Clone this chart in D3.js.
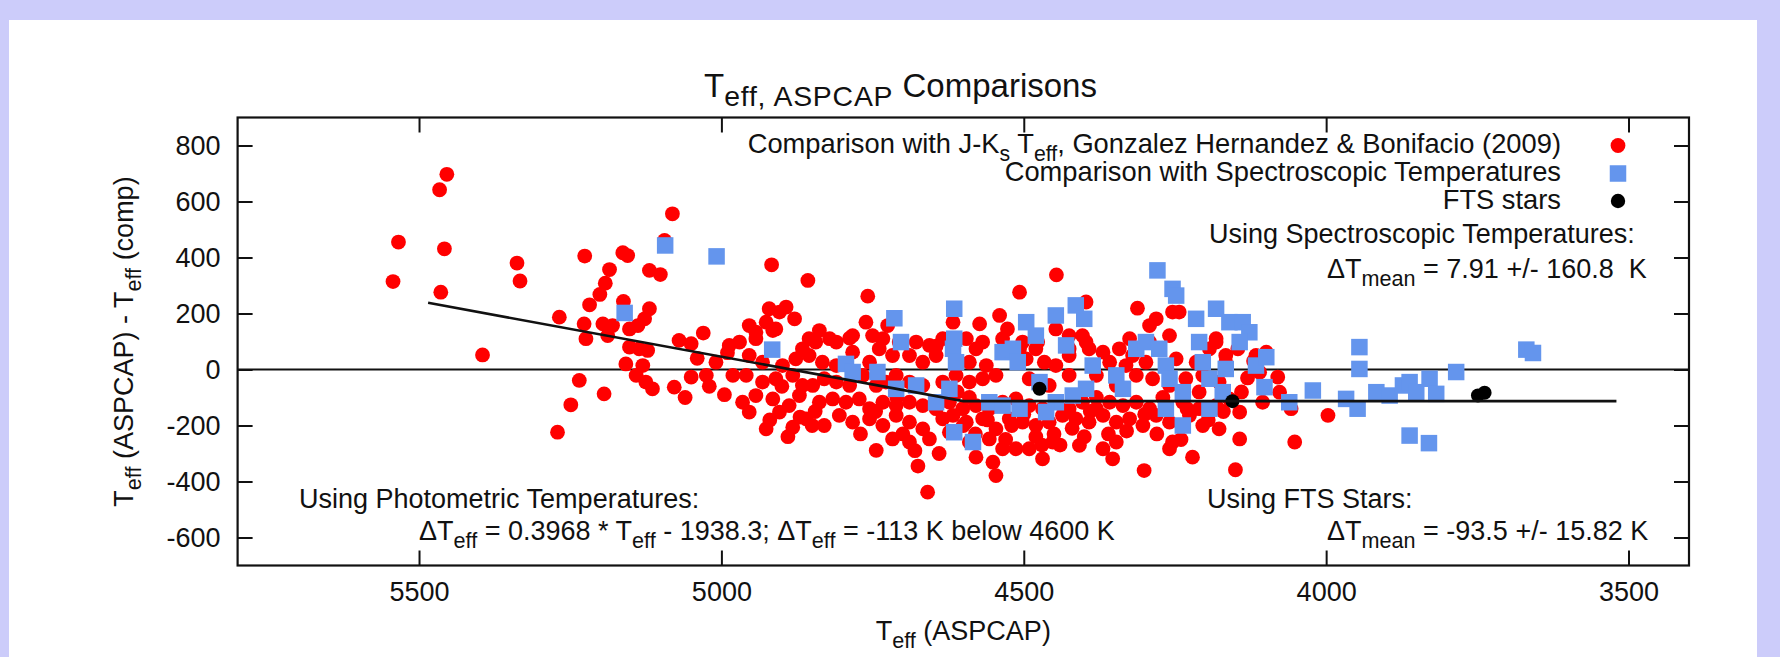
<!DOCTYPE html>
<html>
<head>
<meta charset="utf-8">
<script src="https://cdn.jsdelivr.net/npm/d3@7"></script>
<style>
  html, body { margin: 0; padding: 0; background: #ffffff; }
  svg text { font-family: "Liberation Sans", Arial, Helvetica, sans-serif; fill: #111; white-space: pre; }
</style>
</head>
<body>
<svg id="chart" width="1780" height="657"></svg>
<script>
// Teff(ASPCAP) - Teff(comp) against Teff(ASPCAP), in K.
// J-Ks photometric comparison (Gonzalez Hernandez & Bonifacio 2009)
const photometric = [
  [5543,314],[5534,455],[5466,642],[5454,697],[5458,431],[5464,276],[5338,380],[5333,316],[5395,52],[5268,187],
  [5226,405],[5185,357],[5192,308],[5201,268],[5218,231],[5163,417],[5155,407],[5162,243],[5119,354],[5101,339],
  [5081,556],[5094,461],[5119,217],[5127,181],[5138,157],[5227,163],[5224,110],[5188,121],[5196,163],[5180,157],
  [5152,145],[5152,80],[5136,74],[5122,68],[5158,20],[5130,14],[5141,-21],[5125,-45],[5114,-69],[5078,-63],
  [5070,104],[5050,92],[5050,-27],[5025,-21],[5009,26],[4987,86],[4981,-21],[5235,-39],[5249,-126],[5194,-87],
  [5271,-224],
  [4917,374],[4857,318],[4758,262],[4446,338],[4507,276],[4312,219],[4397,241],[4921,217],[4893,223],[4879,181],
  [4904,205],[4954,157],[4970,98],[4943,133],[4915,139],[4855,110],[4838,139],[4821,110],[4788,112],[4761,169],
  [4725,157],[4656,86],[4645,83],[4617,169],[4573,163],[4540,193],[4527,145],[4502,98],[4477,98],[4466,26],
  [4447,145],[4425,121],[4403,121],[4369,62],[4325,110],[4320,50],[4281,181],[4243,205],[4254,205],[4292,157],
  [4182,98],[4166,26],
  [4959,-21],[4932,-45],[4910,-33],[4882,-21],[4866,-57],[4849,-57],[4830,-33],[4810,-45],[4788,-57],[4766,-21],
  [4744,-57],[4728,-45],[4711,-21],[4689,-45],[4667,-57],[4634,-45],[4612,-21],[4590,-45],[4568,-33],[4546,-21],
  [4491,-33],[4458,-57],[4425,-21],[4380,-21],[4347,-57],[4314,-21],[4287,-33],[4259,-57],[4232,-33],[4204,-21],
  [4177,-45],
  [4965,-117],[4943,-93],[4915,-105],[4888,-129],[4871,-93],[4838,-117],[4816,-105],[4794,-117],[4772,-105],[4755,-140],
  [4733,-117],[4711,-129],[4689,-117],[4667,-129],[4645,-140],[4623,-117],[4601,-140],[4579,-129],[4557,-140],[4535,-117],
  [4513,-105],[4491,-129],[4469,-140],[4447,-117],[4425,-140],[4403,-117],[4380,-140],[4358,-117],[4336,-129],[4314,-117],
  [4292,-140],[4265,-129],[4237,-117],[4210,-140],[4182,-129],[4160,-105],
  [4954,-152],[4926,-212],[4904,-152],[4882,-206],[4860,-176],[4830,-200],[4805,-164],[4783,-188],[4755,-176],[4733,-200],
  [4711,-164],[4689,-188],[4667,-212],[4634,-176],[4617,-164],[4595,-188],[4568,-176],[4546,-212],[4524,-176],[4502,-188],
  [4480,-200],[4458,-188],[4436,-164],[4414,-176],[4392,-188],[4369,-164],[4347,-188],[4325,-176],[4303,-200],[4281,-164],
  [4259,-188],[4226,-164],[4204,-200],[4177,-212],
  [4744,-289],[4717,-248],[4689,-259],[4656,-248],[4623,-224],[4590,-259],[4557,-248],[4535,-283],[4513,-283],[4491,-283],
  [4452,-259],[4408,-271],[4369,-283],[4347,-259],[4259,-283],[4254,-259],
  [4675,-345],[4579,-313],[4551,-331],[4546,-379],[4469,-319],[4353,-319],[4221,-313],[4301,-361],[4659,-438],[4150,-358],
  [4954,50],[4932,26],[4899,14],[4877,38],[4855,50],[4833,26],[4810,14],[4783,62],[4755,26],[4739,74],
  [4717,50],[4689,50],[4667,26],[4645,50],[4590,26],[4579,74],[4562,14],[4496,38],[4447,14],[4425,50],
  [4392,74],[4358,26],[4331,14],[4298,26],[4248,38],[4215,26],[4193,74],[4166,50],
  [4943,110],[4926,169],[4910,145],[4866,74],[4844,98],[4810,98],[4783,121],[4750,121],[4733,110],[4706,98],
  [4678,98],[4634,110],[4595,110],[4568,98],[4535,110],[4507,74],[4480,74],[4425,74],[4397,98],[4342,74],
  [4314,74],[4292,98],[4259,121],[4182,110],
  [4146,74],[4099,62],[4116,50],[4080,-27],[4077,-81],[4105,-117],[4143,-152],[4143,-248],[4058,-140],[4052,-259],
  [3997,-164],
  [5040,40],[5020,-60],[4995,-90],[5060,-100],[4990,60],[5030,130],
  [4900,-60],[4870,-170],[4845,-150],[4920,-180],[4890,-240],[4850,-200],
  [4770,-230],[4745,-150],[4700,-230],[4680,-290],[4640,-300],[4710,-100],
  [4600,-200],[4580,-230],[4560,-180],[4530,-250],[4520,-200],[4500,-160],[4480,-240],[4470,-270],[4610,-80],[4590,-100],
  [4450,-230],[4440,-270],[4420,-210],[4400,-240],[4390,-150],[4380,-100],[4360,-230],
  [4330,-220],[4300,-160],[4280,-230],[4270,-100],[4240,-250],[4230,-140],[4210,-80],
  [4195,-180],[4170,-150],[4140,-80],[4130,-30],[4120,30],[4110,-10]
];

// Spectroscopic temperature comparison
const spectroscopic = [
  [5093,443],[5008,404],[5160,202],
  [4916,71],[4714,183],[4703,98],[4794,20],[4783,-9],[4742,-9],[4711,-69],[4678,-57],[4645,-117],[4615,217],[4615,110],
  [4617,74],[4612,26],[4623,-69],[4615,-224],[4584,-259],[4557,-117],[4535,62],[4518,74],[4510,26],[4496,169],
  [4480,121],[4474,-45],[4447,193],[4430,86],[4414,229],[4400,181],[4386,14],[4397,-69],[4419,-93],[4447,-117],
  [4463,-152],[4507,-140],[4535,-129],[4347,-21],[4336,-69],[4314,74],[4298,98],[4279,354],[4254,288],[4248,264],
  [4276,74],[4265,14],[4259,-33],[4265,-140],[4237,-81],[4237,-200],[4215,181],[4210,98],[4204,26],[4193,-33],
  [4182,217],[4193,-140],[4171,-81],[4160,169],[4166,2],
  [4138,169],[4127,133],[4143,98],[4116,14],[4099,44],[4102,-63],[4061,-117],[4022,-75],[3945,80],[3945,2],
  [3967,-105],[3948,-140],[3917,-81],[3895,-93],[3873,-57],[3862,-45],[3851,-81],[3829,-33],[3818,-87],[3785,-9],
  [3862,-236],[3830,-263],[3669,71],[3658,59]
];

// FTS stars
const ftsStars = [[4474,-69],[4155,-113],[3749,-93],[3738,-83]];

// Photometric offset relation: dT = slope*Teff + intercept above the break, constant below it
const fitSlope = 0.3968;
const fitIntercept = -1938.3;
const fitFloor = -113;
const fitBreak = 4600;
const fitSpan = [5485, 3520];

const xTicks = [5500, 5000, 4500, 4000, 3500];
const yTicks = [800, 600, 400, 200, 0, -200, -400, -600];

const legendLabels = [
  [{t:"Comparison with J-K"},{t:"s",sub:true},{t:" T"},{t:"eff",sub:true},{t:", Gonzalez Hernandez & Bonifacio (2009)"}],
  [{t:"Comparison with Spectroscopic Temperatures"}],
  [{t:"FTS stars"}]
];

const svg = d3.select("#chart");
const W = 1780, H = 657;
const FS = 27;

// page background with lavender margins
svg.append("rect").attr("width", W).attr("height", H).attr("fill", "#ffffff");
svg.append("rect").attr("x", 0).attr("y", 0).attr("width", W).attr("height", 20).attr("fill", "#ccccfa");
svg.append("rect").attr("x", 0).attr("y", 0).attr("width", 9).attr("height", H).attr("fill", "#ccccfa");
svg.append("rect").attr("x", 1757).attr("y", 0).attr("width", W - 1757).attr("height", H).attr("fill", "#ccccfa");

const plot = { left: 237.6, right: 1689, top: 117.5, bottom: 565.5 };
const x = d3.scaleLinear().domain([5800, 3400]).range([plot.left, plot.right]);
const y = d3.scaleLinear().domain([-700, 900]).range([plot.bottom, plot.top]);

// text with gnuplot-style subscripts
function richText(parent, px, py, parts, size, anchor, opts) {
  opts = opts || {};
  const subScale = opts.subScale || 0.8;
  const t = parent.append("text")
    .attr("x", px).attr("y", py)
    .attr("font-size", size)
    .attr("text-anchor", anchor || "start");
  if (opts.transform) t.attr("transform", opts.transform);
  const shift = size * 0.28;
  let lowered = false;
  parts.forEach(p => {
    const s = t.append("tspan").text(p.t);
    if (p.sub) {
      s.attr("font-size", size * subScale);
      if (opts.subSpacing) s.attr("letter-spacing", opts.subSpacing);
      if (!lowered) { s.attr("dy", shift); lowered = true; }
    } else if (lowered) {
      s.attr("dy", -shift); lowered = false;
    }
  });
  return t;
}

// zero line
svg.append("line")
  .attr("x1", plot.left).attr("x2", plot.right)
  .attr("y1", y(0)).attr("y2", y(0))
  .attr("stroke", "#111").attr("stroke-width", 2);

// axes with inward ticks on all four sides
const TL = 15;
const gx = svg.append("g").attr("transform", `translate(0,${plot.bottom})`)
  .call(d3.axisBottom(x).tickValues(xTicks).tickSize(-TL).tickPadding(16).tickFormat(d => String(d)));
const gxt = svg.append("g").attr("transform", `translate(0,${plot.top})`)
  .call(d3.axisTop(x).tickValues(xTicks).tickSize(-TL).tickFormat(""));
const gy = svg.append("g").attr("transform", `translate(${plot.left},0)`)
  .call(d3.axisLeft(y).tickValues(yTicks).tickSize(-TL).tickPadding(17).tickFormat(d => String(d)));
const gyr = svg.append("g").attr("transform", `translate(${plot.right},0)`)
  .call(d3.axisRight(y).tickValues(yTicks).tickSize(-TL).tickFormat(""));
[gx, gxt, gy, gyr].forEach(g => {
  g.select(".domain").remove();
  g.selectAll(".tick line").attr("stroke", "#111").attr("stroke-width", 2);
  g.selectAll(".tick text").attr("font-size", FS).attr("fill", "#111")
    .attr("font-family", '"Liberation Sans", Arial, sans-serif');
});

// points
svg.append("g").selectAll("circle").data(photometric).join("circle")
  .attr("cx", d => x(d[0])).attr("cy", d => y(d[1])).attr("r", 7.4).attr("fill", "#ff0000");
const SQ = 16.5;
svg.append("g").selectAll("rect").data(spectroscopic).join("rect")
  .attr("x", d => x(d[0]) - SQ / 2).attr("y", d => y(d[1]) - SQ / 2)
  .attr("width", SQ).attr("height", SQ).attr("fill", "#6495ed");
svg.append("g").selectAll("circle").data(ftsStars).join("circle")
  .attr("cx", d => x(d[0])).attr("cy", d => y(d[1])).attr("r", 7).attr("fill", "#000");

// broken-line fit
const fitFn = t => (t >= fitBreak ? fitSlope * t + fitIntercept : fitFloor);
const fitPts = [fitSpan[0], fitBreak, fitSpan[1]].map(t => [t, fitFn(t)]);
svg.append("path")
  .attr("d", d3.line().x(d => x(d[0])).y(d => y(d[1]))(fitPts))
  .attr("fill", "none").attr("stroke", "#111").attr("stroke-width", 2.6);

// frame
svg.append("rect")
  .attr("x", plot.left).attr("y", plot.top)
  .attr("width", plot.right - plot.left).attr("height", plot.bottom - plot.top)
  .attr("fill", "none").attr("stroke", "#111").attr("stroke-width", 2.2);

// legend
const legendTextX = 1561, legendMarkX = 1618;
const legendBase = [153, 181, 209];
legendLabels.forEach((parts, i) => richText(svg, legendTextX, legendBase[i], parts, 27.3, "end", { subScale: 0.78 }));
svg.append("circle").attr("cx", legendMarkX).attr("cy", legendBase[0] - 7.5).attr("r", 7.4).attr("fill", "#ff0000");
svg.append("rect").attr("x", legendMarkX - SQ / 2).attr("y", legendBase[1] - 7.5 - SQ / 2)
  .attr("width", SQ).attr("height", SQ).attr("fill", "#6495ed");
svg.append("circle").attr("cx", legendMarkX).attr("cy", legendBase[2] - 8).attr("r", 7.2).attr("fill", "#000");

// annotations
richText(svg, 1209, 243, [{t:"Using Spectroscopic Temperatures:"}], FS, "start");
richText(svg, 1327, 278, [{t:"\u0394T"},{t:"mean",sub:true},{t:" = 7.91 +/- 160.8  K"}], FS, "start");
richText(svg, 1207, 508, [{t:"Using FTS Stars:"}], FS, "start");
richText(svg, 1327, 540, [{t:"\u0394T"},{t:"mean",sub:true},{t:" = -93.5 +/- 15.82 K"}], FS, "start");
richText(svg, 299, 508, [{t:"Using Photometric Temperatures:"}], FS, "start");
richText(svg, 419, 540, [
  {t:"\u0394T"},{t:"eff",sub:true},{t:" = 0.3968 * T"},{t:"eff",sub:true},
  {t:" - 1938.3; \u0394T"},{t:"eff",sub:true},{t:" = -113 K below 4600 K"}
], FS, "start");

// axis titles
richText(svg, (plot.left + plot.right) / 2, 640,
  [{t:"T"},{t:"eff",sub:true},{t:" (ASPCAP)"}], FS, "middle");
richText(svg, 0, 0,
  [{t:"T"},{t:"eff",sub:true},{t:" (ASPCAP) - T"},{t:"eff",sub:true},{t:" (comp)"}], FS, "middle",
  { transform: `translate(133,${(plot.top + plot.bottom) / 2}) rotate(-90)` });

// chart title
richText(svg, 704, 97, [{t:"T"},{t:"eff, ASPCAP",sub:true},{t:" Comparisons"}], 33, "start",
  { subScale: 0.86, subSpacing: 0.8 });
</script>
</body>
</html>
